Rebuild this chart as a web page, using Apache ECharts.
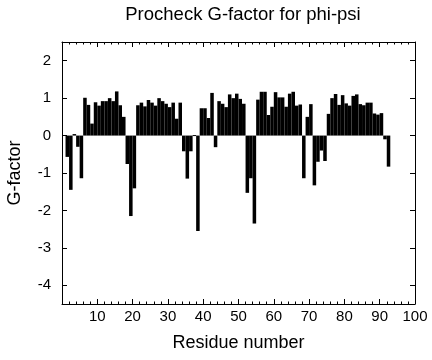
<!DOCTYPE html>
<html>
<head>
<meta charset="utf-8">
<script src="https://cdn.jsdelivr.net/npm/echarts@6/dist/echarts.min.js"></script>
<style>
  html, body { margin: 0; padding: 0; background: #fff; }
  #chart { width: 432px; height: 360px; }
</style>
</head>
<body>
<div id="chart"></div>
<script>
// Residue numbers and G-factor values (phi-psi)
const residues = [];
for (let i = 1; i <= 92; i++) residues.push(i);
const gFactor = [
  -0.57, -1.45, 0.04, -0.30, -1.14, 1.01, 0.82, 0.32, 0.89, 0.80,
   0.92,  0.92, 1.00,  0.92,  1.18, 0.81, 0.50, -0.76, -2.15, -1.41,
   0.81,  0.88, 0.78,  0.95,  0.88, 0.80, 1.00, 0.92, 0.85, 0.76,
   0.88,  0.45, 0.88, -0.42, -1.15, -0.42, 0.00, -2.55, 0.73, 0.73,
   0.47,  1.14, -0.31, 0.92,  0.85, 0.76, 1.10, 1.00, 1.12, 0.98,
   0.85, -1.53, -1.14, -2.35, 0.96, 1.17, 1.17, 0.55, 0.77, 1.16,
   1.02,  1.02, 0.77,  1.12,  1.17, 0.80, 0.83, -1.14, 0.50, 0.84,
  -1.33, -0.70, -0.40, -0.68, 0.58, 1.00, 1.11, 0.82, 1.08, 0.86,
   0.80,  1.06, 1.10,  0.84,  0.81, 0.88, 0.88, 0.59, 0.56, 0.60,
  -0.10, -0.83
];
const xTicks = [10, 20, 30, 40, 50, 60, 70, 80, 90, 100];
const yTicks = [-4, -3, -2, -1, 0, 1, 2];

const data = residues.map((r, i) => [r, gFactor[i]]);
const font = 'Liberation Sans, Arial, Helvetica, sans-serif';

const chart = echarts.init(document.getElementById('chart'), null, { renderer: 'canvas' });

const baseX = {
  type: 'value', min: 0, max: 100, interval: 10,
  axisLine: { show: true, onZero: false, lineStyle: { color: '#000', width: 1 } },
  axisTick: { show: true, inside: true, length: 5, lineStyle: { color: '#000' } },
  minorTick: { show: true, splitNumber: 5, length: 2.5, lineStyle: { color: '#000' } },
  splitLine: { show: false }
};
const baseY = {
  type: 'value', min: -4.5, max: 2.5, splitNumber: 7,
  axisLine: { show: true, onZero: false, lineStyle: { color: '#000', width: 1 } },
  axisTick: { show: true, inside: true, length: 5, lineStyle: { color: '#000' } },
  splitLine: { show: false }
};

chart.setOption({
  backgroundColor: '#fff',
  animation: false,
  title: {
    text: 'Procheck G-factor for phi-psi',
    left: 238, textAlign: 'center', top: 0,
    textStyle: { fontFamily: font, fontSize: 18.5, fontWeight: 'normal', color: '#000' }
  },
  grid: { left: 62, right: 17, top: 42, bottom: 56, containLabel: false, outerBoundsMode: 'none' },
  xAxis: [
    Object.assign({}, baseX, {
      position: 'bottom',
      name: 'Residue number', nameLocation: 'middle', nameGap: 30,
      nameTextStyle: { fontFamily: font, fontSize: 18, color: '#000' },
      axisLabel: {
        show: true, margin: 5, fontFamily: font, fontSize: 15, color: '#000',
        formatter: v => (xTicks.indexOf(v) >= 0 ? String(v) : '')
      }
    }),
    Object.assign({}, baseX, { position: 'top', axisLabel: { show: false } })
  ],
  yAxis: [
    Object.assign({}, baseY, {
      position: 'left',
      name: 'G-factor', nameLocation: 'middle', nameGap: 38, nameRotate: 90,
      nameTextStyle: { fontFamily: font, fontSize: 18, color: '#000' },
      axisLabel: {
        show: true, margin: 11, fontFamily: font, fontSize: 15, color: '#000',
        formatter: v => (yTicks.indexOf(v) >= 0 ? String(v) : '')
      }
    }),
    Object.assign({}, baseY, { position: 'right', axisLabel: { show: false } })
  ],
  series: [{
    type: 'custom',
    xAxisIndex: 0, yAxisIndex: 0,
    data: data,
    clip: true,
    renderItem: function (params, api) {
      const r = api.value(0), v = api.value(1);
      const p0 = api.coord([r, 0]);
      const p1 = api.coord([r + 1, v]);
      let h = Math.abs(p1[1] - p0[1]);
      let y = Math.min(p0[1], p1[1]);
      if (h < 1) { h = 1; y = p0[1] - 0.5; }
      return {
        type: 'rect',
        shape: {
          x: Math.min(p0[0], p1[0]), y: y,
          width: Math.abs(p1[0] - p0[0]), height: h
        },
        style: { fill: '#000', stroke: null }
      };
    }
  }]
});
</script>
</body>
</html>
